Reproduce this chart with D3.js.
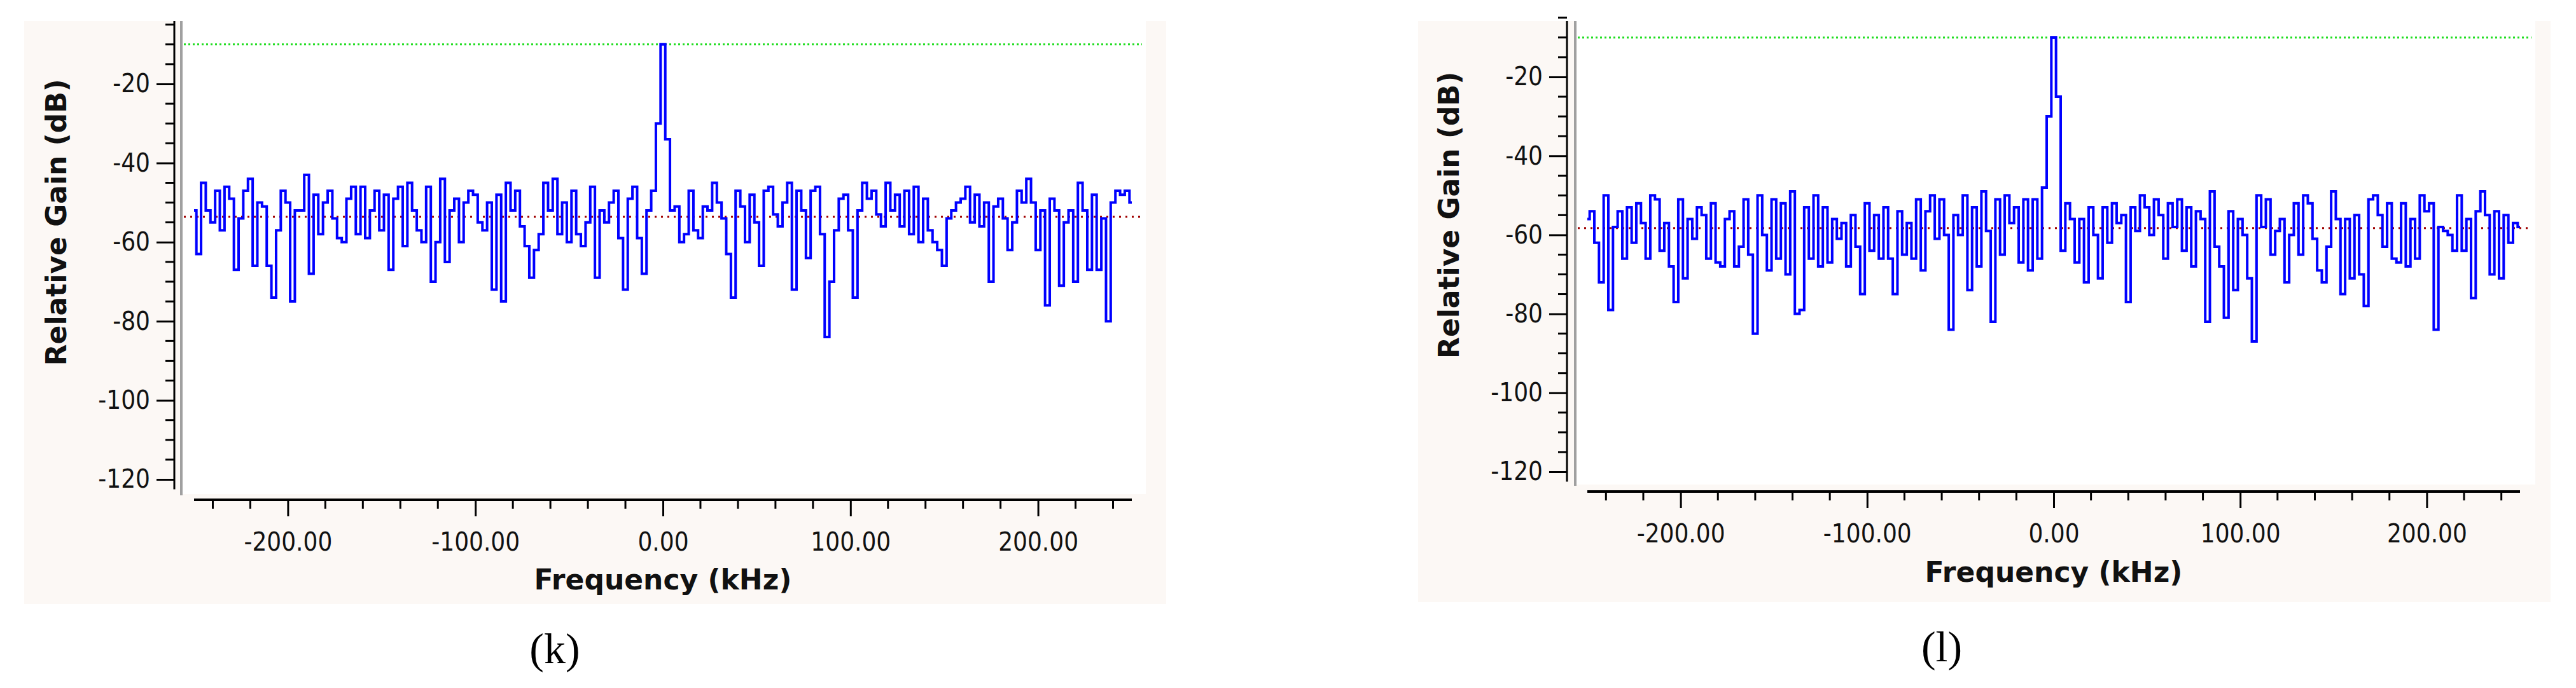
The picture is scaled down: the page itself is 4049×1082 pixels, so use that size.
<!DOCTYPE html>
<html lang="en">
<head>
<meta charset="UTF-8">
<title>Relative Gain spectra (k) and (l)</title>
<script src="https://cdn.jsdelivr.net/npm/d3@7"></script>
<style>
  body { margin:0; background:#ffffff; }
  svg { display:block; }
  .tick-label { font-family:"DejaVu Sans Condensed","DejaVu Sans",sans-serif; font-stretch:condensed; font-size:40px; fill:#111; }
  .axis-title { font-family:"DejaVu Sans",sans-serif; font-weight:bold; font-size:44px; fill:#111; }
  .panel-label { font-family:"Liberation Serif",serif; font-size:68px; fill:#000; }
</style>
</head>
<body>
<svg id="chart" width="4049" height="1082"></svg>
<script>
// frequency bins (kHz), 2.5 kHz spacing
var freqBins = d3.range(-250, 250.001, 2.5);

// panel (k): relative gain in dB
var gainK = [
  -52,-63,-45,-52,-55,-47,-57,-46,-49,-67,-54,-47,-44,-66,-50,-51,-66,-74,-57,-47,
  -50,-75,-52,-52,-43,-68,-48,-58,-50,-47,-54,-59,-60,-49,-46,-58,-46,-59,-52,-47,
  -57,-48,-67,-49,-46,-61,-45,-52,-57,-60,-46,-70,-60,-44,-65,-52,-49,-60,-50,-47,
  -48,-55,-57,-50,-72,-48,-75,-45,-52,-47,-56,-61,-69,-62,-58,-45,-52,-44,-58,-50,
  -60,-47,-58,-61,-55,-46,-69,-52,-55,-50,-47,-59,-72,-49,-46,-59,-68,-52,-47,-30,
  -10,
  -34,-52,-51,-60,-58,-47,-57,-59,-51,-52,-45,-50,-54,-63,-74,-47,-51,-60,-48,-55,
  -66,-47,-46,-53,-56,-50,-45,-72,-47,-52,-64,-47,-46,-58,-84,-70,-57,-49,-48,-57,
  -74,-52,-45,-49,-47,-53,-56,-45,-52,-48,-56,-47,-58,-46,-60,-49,-57,-60,-62,-66,
  -54,-52,-50,-49,-46,-55,-48,-56,-50,-70,-51,-49,-54,-62,-55,-47,-50,-44,-50,-62,
  -52,-76,-49,-52,-71,-55,-52,-70,-45,-52,-67,-48,-67,-54,-80,-50,-47,-48,-47,-50
];

// panel (l)
var gainL = [
  -56,-54,-62,-72,-50,-79,-58,-54,-66,-53,-62,-52,-57,-66,-50,-51,-64,-57,-68,-77,
  -51,-71,-56,-61,-53,-55,-66,-52,-67,-68,-56,-54,-68,-63,-51,-65,-85,-50,-60,-69,
  -51,-66,-52,-70,-49,-80,-79,-53,-66,-50,-68,-53,-67,-56,-61,-57,-68,-55,-63,-75,
  -52,-64,-55,-66,-53,-66,-75,-54,-65,-57,-66,-51,-69,-54,-50,-61,-51,-60,-84,-55,
  -60,-50,-74,-53,-68,-49,-59,-82,-51,-65,-50,-57,-53,-67,-51,-69,-51,-66,-48,-30,
  -10,
  -25,-64,-52,-56,-67,-56,-72,-53,-60,-71,-53,-62,-52,-57,-55,-77,-53,-59,-50,-53,
  -60,-51,-55,-66,-52,-58,-51,-64,-53,-68,-54,-56,-82,-49,-63,-68,-81,-54,-74,-56,
  -60,-71,-87,-50,-58,-51,-65,-59,-56,-72,-60,-52,-65,-50,-52,-61,-69,-72,-63,-49,
  -56,-75,-56,-71,-55,-70,-78,-51,-50,-55,-63,-52,-66,-67,-52,-68,-56,-66,-50,-54,
  -52,-84,-58,-59,-60,-64,-50,-64,-56,-76,-54,-49,-55,-70,-54,-71,-55,-62,-57,-58
];

// reference levels (dB)
var peakLevelK = -10, noiseLevelK = -53.6;
var peakLevelL = -10, noiseLevelL = -58.3;

var xTickValues = [-200, -100, 0, 100, 200];
var yTickValues = [-20, -40, -60, -80, -100, -120];

var panels = [
  { gain: gainK, peak: peakLevelK, noise: noiseLevelK, label: "(k)",
    bg: [38, 33, 1795, 917], frameX: 285, plotRight: 1801, plotBottom: 777,
    yAxisX: 274, yTop: 33, y20: 132, y120: 754,
    xLeft: 305, xRight: 1779, xAxisY: 786, titleY: 927, panelLabelY: 1043, panelLabelX: 872 },
  { gain: gainL, peak: peakLevelL, noise: noiseLevelL, label: "(l)",
    bg: [2229, 33, 1780, 914], frameX: 2476, plotRight: 3985, plotBottom: 762,
    yAxisX: 2463, yTop: 33, y20: 121, y120: 742,
    xLeft: 2495, xRight: 3961, xAxisY: 773, titleY: 915, panelLabelY: 1040, panelLabelX: 3052 }
];

var hyphen = function(s) { return s.replace(/\u2212/g, "-"); };
var svg = d3.select("#chart");

panels.forEach(function(p) {
  var g = svg.append("g");

  var y = d3.scaleLinear().domain([-20, -120]).range([p.y20, p.y120]);
  var x = d3.scaleLinear().domain([-250, 250]).range([p.xLeft, p.xRight]);

  // backgrounds
  g.append("rect").attr("x", p.bg[0]).attr("y", p.bg[1]).attr("width", p.bg[2]).attr("height", p.bg[3])
    .attr("fill", "#fcf8f5");
  g.append("rect").attr("x", p.frameX).attr("y", p.yTop)
    .attr("width", p.plotRight - p.frameX).attr("height", p.plotBottom - p.yTop)
    .attr("fill", "#ffffff");
  g.append("line").attr("x1", p.frameX).attr("x2", p.frameX).attr("y1", p.yTop).attr("y2", p.plotBottom + 2)
    .attr("stroke", "#a0a0a0").attr("stroke-width", 4);

  // y axis
  var yMinor = d3.range(-5, -125, -5).filter(function(v) { return v % 20 !== 0; });
  var yAx = d3.axisLeft(y).tickValues(yTickValues).tickSize(28).tickSizeOuter(0).tickPadding(10)
    .tickFormat(function(d) { return hyphen(d3.format("d")(d)); });
  var yG = g.append("g").attr("transform", "translate(" + p.yAxisX + ",0)").call(yAx);
  yG.select(".domain").remove();
  yG.append("line").attr("x1", 0).attr("x2", 0).attr("y1", p.yTop).attr("y2", y(-122.5))
    .attr("stroke", "#000").attr("stroke-width", 3);
  yG.selectAll(".tick line").attr("stroke", "#000").attr("stroke-width", 3);
  yG.selectAll(".tick text").attr("class", "tick-label").attr("fill", "#111");
  yG.selectAll(".minor").data(yMinor).enter().append("line")
    .attr("x1", -14).attr("x2", 0).attr("y1", function(d) { return y(d); }).attr("y2", function(d) { return y(d); })
    .attr("stroke", "#000").attr("stroke-width", 3);

  g.append("text").attr("class", "axis-title").attr("text-anchor", "middle")
    .attr("transform", "translate(" + (p.yAxisX - 170) + "," + y(-55) + ") rotate(-90)")
    .text("Relative Gain (dB)");

  // x axis
  var xMinor = d3.range(-240, 250, 20).filter(function(v) { return v % 100 !== 0; });
  var xAx = d3.axisBottom(x).tickValues(xTickValues).tickSize(26).tickSizeOuter(0).tickPadding(26)
    .tickFormat(function(d) { return hyphen(d3.format(".2f")(d)); });
  var xG = g.append("g").attr("transform", "translate(0," + p.xAxisY + ")").call(xAx);
  xG.select(".domain").remove();
  xG.append("line").attr("x1", p.xLeft).attr("x2", p.xRight).attr("y1", 0).attr("y2", 0)
    .attr("stroke", "#000").attr("stroke-width", 4);
  xG.selectAll(".tick line").attr("stroke", "#000").attr("stroke-width", 3);
  xG.selectAll(".tick text").attr("class", "tick-label").attr("fill", "#111");
  xG.selectAll(".minor").data(xMinor).enter().append("line")
    .attr("x1", function(d) { return x(d); }).attr("x2", function(d) { return x(d); })
    .attr("y1", 0).attr("y2", 14).attr("stroke", "#000").attr("stroke-width", 3);

  g.append("text").attr("class", "axis-title").attr("text-anchor", "middle")
    .attr("x", x(0)).attr("y", p.titleY).text("Frequency (kHz)");

  // reference lines
  g.append("line").attr("x1", p.frameX + 4).attr("x2", p.plotRight - 6)
    .attr("y1", y(p.peak)).attr("y2", y(p.peak))
    .attr("stroke", "#22dd22").attr("stroke-width", 3).attr("stroke-dasharray", "3,4");
  g.append("line").attr("x1", p.frameX + 4).attr("x2", p.plotRight - 6)
    .attr("y1", y(p.noise)).attr("y2", y(p.noise))
    .attr("stroke", "#a00000").attr("stroke-width", 3).attr("stroke-dasharray", "3,7");

  // spectrum
  var pts = freqBins.map(function(f, i) { return [f, p.gain[i]]; });
  var line = d3.line().x(function(d) { return x(d[0]); }).y(function(d) { return y(d[1]); })
    .curve(d3.curveStep);
  g.append("path").datum(pts).attr("d", line)
    .attr("fill", "none").attr("stroke", "#0000ff").attr("stroke-width", 4);

  // panel label
  g.append("text").attr("class", "panel-label").attr("text-anchor", "middle")
    .attr("x", p.panelLabelX).attr("y", p.panelLabelY).text(p.label);
});
</script>
</body>
</html>
